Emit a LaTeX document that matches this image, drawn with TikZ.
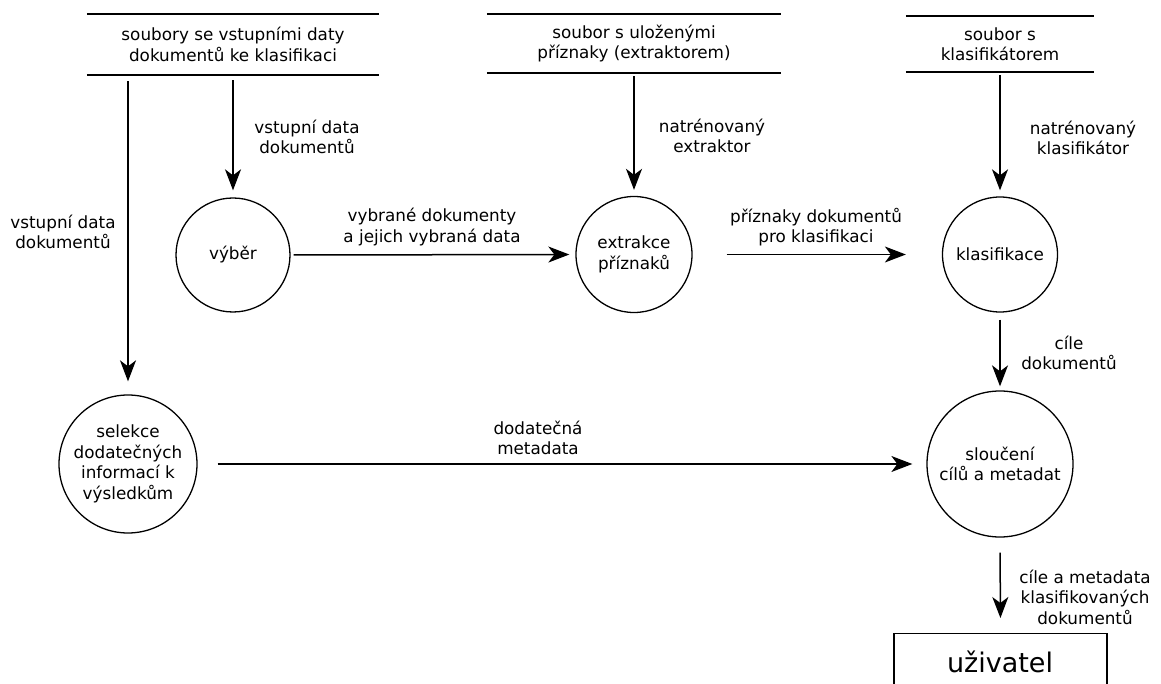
\documentclass[tikz,border=0pt]{standalone}
\usepackage{fontspec}
\setmainfont{DejaVu Sans}
\usetikzlibrary{arrows.meta}
\tikzset{
  proc/.style={circle, draw, line width=1.3pt, inner sep=0pt, align=center},
  storebox/.style={inner sep=0pt, align=center},
  lbl/.style={align=center, inner sep=0pt},
  arr/.style={line width=1.5pt, -{Stealth[length=21pt, width=16pt, inset=6pt]}},
  sline/.style={line width=1.5pt},
}
\begin{document}
\begin{tikzpicture}[x=1pt, y=-1pt, font=\fontsize{16.8}{20.5}\selectfont]
\useasboundingbox (0,0) rectangle (1161,684);
\clip (0,0) rectangle (1161,684);
% data stores
\node[storebox, minimum width=292pt, minimum height=61pt] (s1) at (233,44.5) {soubory se vstupními daty\\dokumentů ke klasifikaci};
\node[storebox, minimum width=294pt, minimum height=59pt] (s2) at (634,43.5) {soubor s uloženými\\příznaky (extraktorem)};
\node[storebox, minimum width=188pt, minimum height=56pt] (s3) at (1000,44) {soubor s\\klasifikátorem};
\foreach \s in {s1,s2,s3}{
  \draw[sline] (\s.north west) -- (\s.north east);
  \draw[sline] (\s.south west) -- (\s.south east);
}
% processes
\node[proc, minimum size=114pt] (vyb) at (233,255) {výběr};
\node[proc, minimum size=116pt] (ext) at (634,254.5) {extrakce\\příznaků};
\node[proc, minimum size=115pt] (kla) at (1000,254.5) {klasifikace};
\node[proc, minimum size=138pt] (sel) at (128,464) {selekce\\dodatečných\\informací k\\výsledkům};
\node[proc, minimum size=146pt] (slo) at (1000,464) {sloučení\\cílů a metadat};
% external entity
\node[draw, line width=1.3pt, minimum width=213pt, minimum height=70pt, anchor=north, inner sep=0pt] (uz) at (1000.5,633) {};
\node[lbl, font=\fontsize{27}{32}\selectfont, anchor=base] (uzt) at (1000,672) {uživatel};
% flows
\draw[arr, shorten <=6pt, shorten >=13pt] (s1.south -| sel.north) -- (sel.north);
\draw[arr, shorten <=5pt, shorten >=7pt] (s1.south -| vyb.north) -- (vyb.north);
\draw[arr, shorten <=3pt, shorten >=6pt] (s2.south -| ext.north) -- (ext.north);
\draw[arr, shorten <=3pt, shorten >=6pt] (s3.south -| kla.north) -- (kla.north);
\draw[arr, shorten <=3pt, shorten >=6pt] (vyb.east) -- (ext.west);
\draw[arr, shorten <=34pt, shorten >=36pt] (ext.east) -- (kla.west);
\draw[arr, shorten <=7pt, shorten >=4pt] (kla.south) -- (slo.north);
\draw[arr, shorten <=20pt, shorten >=14pt] (sel.east) -- (slo.west);
\draw[arr, shorten <=15pt, shorten >=15pt] (slo.south) -- (uz.north);
% flow labels
\node[lbl] (l1) at (63,232) {vstupní data\\dokumentů};
\node[lbl] (l2) at (307,137) {vstupní data\\dokumentů};
\node[lbl] (l3) at (432,227) {vybrané dokumenty\\a jejich vybraná data};
\node[lbl] (l4) at (712,136) {natrénovaný\\extraktor};
\node[lbl] (l5) at (816,227) {příznaky dokumentů\\pro klasifikaci};
\node[lbl] (l6) at (1083,138) {natrénovaný\\klasifikátor};
\node[lbl] (l7) at (1069,353) {cíle\\dokumentů};
\node[lbl] (l8) at (538,438) {dodatečná\\metadata};
\node[lbl] (l9) at (1085,597) {cíle a metadata\\klasifikovaných\\dokumentů};
\end{tikzpicture}
\end{document}
